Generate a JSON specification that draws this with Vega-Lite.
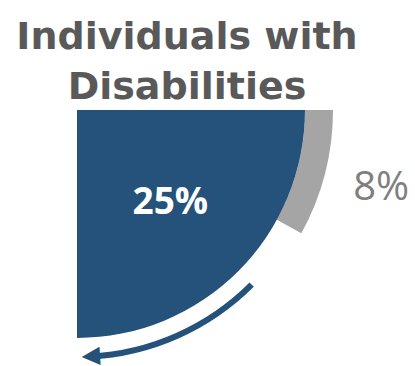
{
  "$schema": "https://vega.github.io/schema/vega-lite/v6.json",
  "width": 154,
  "height": 8,
  "autosize": {"type": "none"},
  "padding": {"left": 0, "top": 106, "right": 261, "bottom": 252},
  "background": "white",
  "config": {"view": {"stroke": null}},
  "title": {
    "text": ["Individuals with", "Disabilities"],
    "orient": "top",
    "anchor": "middle",
    "frame": "group",
    "dx": 110,
    "offset": -39,
    "baseline": "bottom",
    "lineHeight": 50,
    "font": "DejaVu Sans",
    "fontSize": 38,
    "fontWeight": "bold",
    "color": "#595959"
  },
  "data": {
    "values": [
      {"group": "Individuals with Disabilities", "value": 0.25},
      {"group": "Comparison", "value": 0.08}
    ]
  },
  "layer": [
    {
      "transform": [{"filter": "datum.group == 'Comparison'"}],
      "mark": {"type": "arc", "outerRadius": 256, "innerRadius": 228, "color": "#A5A5A5"},
      "encoding": {
        "theta": {"field": "value", "type": "quantitative", "stack": true, "scale": {"domain": [0, 1], "range": [1.5708, 7.854]}}
      }
    },
    {
      "transform": [{"filter": "datum.group == 'Comparison'"}],
      "mark": {"type": "text", "radius": 314, "font": "Open Sans", "fontSize": 40, "color": "#7F7F7F"},
      "encoding": {
        "theta": {"field": "value", "type": "quantitative", "stack": true},
        "text": {"field": "value", "type": "quantitative", "format": ".0%"}
      }
    },
    {
      "transform": [{"filter": "datum.group == 'Individuals with Disabilities'"}],
      "mark": {"type": "arc", "outerRadius": 228, "innerRadius": 0, "color": "#24527A"},
      "encoding": {
        "theta": {"field": "value", "type": "quantitative", "stack": true}
      }
    },
    {
      "transform": [{"filter": "datum.group == 'Individuals with Disabilities'"}],
      "mark": {"type": "text", "radius": 132, "font": "Open Sans", "fontSize": 37, "fontWeight": "bold", "color": "white"},
      "encoding": {
        "theta": {"field": "value", "type": "quantitative", "stack": true},
        "text": {"field": "value", "type": "quantitative", "format": ".0%"}
      }
    },
    {
      "transform": [{"filter": "datum.group == 'Individuals with Disabilities'"}],
      "mark": {"type": "arc", "outerRadius": 250, "innerRadius": 244, "color": "#24527A"},
      "encoding": {
        "theta": {"datum": 0.125, "type": "quantitative"},
        "theta2": {"datum": 0.242}
      }
    },
    {
      "transform": [{"filter": "datum.group == 'Individuals with Disabilities'"}],
      "mark": {"type": "text", "radius": 246, "font": "DejaVu Sans", "fontSize": 24, "color": "#24527A", "angle": -3.5, "align": "center", "baseline": "middle", "text": "◀"},
      "encoding": {
        "theta": {"datum": 0.241, "type": "quantitative"}
      }
    }
  ]
}
